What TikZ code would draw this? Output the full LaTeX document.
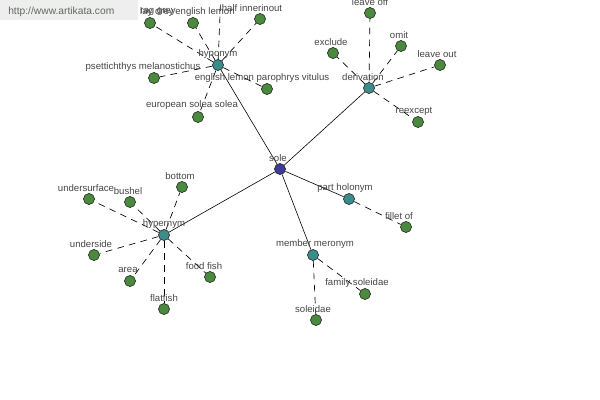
\documentclass[tikz,border=0pt]{standalone}
\usepackage{fontspec}
\setmainfont{Liberation Sans}
\definecolor{leafc}{RGB}{74,138,60}
\definecolor{relc}{RGB}{60,140,140}
\definecolor{rootc}{RGB}{60,60,150}
\definecolor{txtc}{RGB}{70,70,70}
\definecolor{wmbg}{RGB}{238,238,238}
\definecolor{wmtxt}{RGB}{95,105,95}
\begin{document}
\begin{tikzpicture}[x=0.75pt,y=-0.75pt,
  leaf/.style={circle,draw=black!85,fill=leafc,inner sep=0pt,minimum size=8.3pt,line width=0.45pt},
  rel/.style={leaf,fill=relc},
  rootn/.style={leaf,fill=rootc},
  lbl/.style={text=txtc,font=\fontsize{7.2}{8}\selectfont,inner sep=0pt},
  dsh/.style={dash pattern=on 5pt off 4pt,line width=0.5pt},
  sol/.style={line width=0.45pt}]
\useasboundingbox (0,0) rectangle (600,400);
\clip (0,0) rectangle (600,400);
\fill[white] (0,0) rectangle (600,400);
% watermark
\node[fill=wmbg,minimum width=138*0.75pt,minimum height=20*0.75pt,anchor=north west,inner sep=0pt] (wm) at (0,0) {};
\node[text=wmtxt,font=\fontsize{7.7}{9}\selectfont,anchor=west,inner sep=0pt] (wmt) at (8,12) {http://www.artikata.com};

% main nodes
\node[rootn] (sole) at (280,169) {};
\node[rel] (hypo) at (218,65) {};
\node[rel] (deriv) at (369,88) {};
\node[rel] (hyper) at (164,235) {};
\node[rel] (parth) at (349,199) {};
\node[rel] (memb) at (313,255) {};

% hyponym leaves
\node[leaf] (hTop) at (221,-10) {};
\node[leaf] (hRag) at (150,23) {};
\node[leaf] (hEng) at (193,23) {};
\node[leaf] (hHalf) at (260,19) {};
\node[leaf] (hPse) at (154,78) {};
\node[leaf] (hPar) at (267,89) {};
\node[leaf] (hEur) at (198,117) {};
% derivation leaves
\node[leaf] (dOff) at (370,13) {};
\node[leaf] (dOmit) at (401,46) {};
\node[leaf] (dExc) at (333,53) {};
\node[leaf] (dOut) at (440,65) {};
\node[leaf] (dRee) at (418,122) {};
% hypernym leaves
\node[leaf] (yUs) at (89,199) {};
\node[leaf] (yBu) at (130,202) {};
\node[leaf] (yBo) at (182,187) {};
\node[leaf] (yUd) at (94,255) {};
\node[leaf] (yAr) at (130,281) {};
\node[leaf] (yFl) at (164,309) {};
\node[leaf] (yFo) at (210,277) {};
% part holonym leaf
\node[leaf] (pFi) at (406,227) {};
% member meronym leaves
\node[leaf] (mFa) at (365,294) {};
\node[leaf] (mSo) at (316,320) {};

% solid connectors
\draw[sol] (sole) -- (hypo);
\draw[sol] (sole) -- (deriv);
\draw[sol] (sole) -- (hyper);
\draw[sol] (sole) -- (parth);
\draw[sol] (sole) -- (memb);

% dashed connectors
\foreach \t in {hTop,hRag,hEng,hHalf,hPse,hPar,hEur}
  \draw[dsh] (hypo) -- (\t);
\foreach \t in {dOff,dOmit,dExc,dOut,dRee}
  \draw[dsh] (deriv) -- (\t);
\foreach \t in {yUs,yBu,yBo,yUd,yAr,yFl,yFo}
  \draw[dsh] (hyper) -- (\t);
\draw[dsh] (parth) -- (pFi);
\foreach \t in {mFa,mSo}
  \draw[dsh] (memb) -- (\t);

% labels
\node[lbl] (lSole) at (278,158) {sole};
\node[lbl] (lHypo) at (218,54) {hyponym};
\node[lbl] (lDeriv) at (363,77) {derivation};
\node[lbl] (lHyper) at (164,224) {hypernym};
\node[lbl] (lPart) at (345,188) {part holonym};
\node[lbl] (lMemb) at (315,244) {member meronym};

\node[lbl] (lRag1) at (158,12) {rag grey};
\node[lbl] (lRag2) at (157,12) {lay drey};
\node[lbl] (lEng) at (205,12) {english lemon};
\node[lbl] (lHalf) at (252,8) {half innerinout};
\node[lbl] (lPse) at (143,67) {psettichthys melanostichus};
\node[lbl] (lPar) at (262,78) {english lemon parophrys vitulus};
\node[lbl] (lEur) at (192,105) {european solea solea};

\node[lbl] (lOff) at (370,2) {leave off};
\node[lbl] (lOmit) at (399,35) {omit};
\node[lbl] (lExc) at (331,42) {exclude};
\node[lbl] (lOut) at (437,54) {leave out};
\node[lbl] (lRee) at (414,111) {reexcept};

\node[lbl] (lUs) at (86,188) {undersurface};
\node[lbl] (lBu) at (128,191) {bushel};
\node[lbl] (lBo) at (180,176) {bottom};
\node[lbl] (lUd) at (91,244) {underside};
\node[lbl] (lAr) at (128,270) {area};
\node[lbl] (lFl) at (164,298) {flatfish};
\node[lbl] (lFo) at (204,266) {food fish};

\node[lbl] (lFi) at (399,216) {fillet of};
\node[lbl] (lFa) at (357,283) {family soleidae};
\node[lbl] (lSo) at (313,309) {soleidae};
\end{tikzpicture}
\end{document}
